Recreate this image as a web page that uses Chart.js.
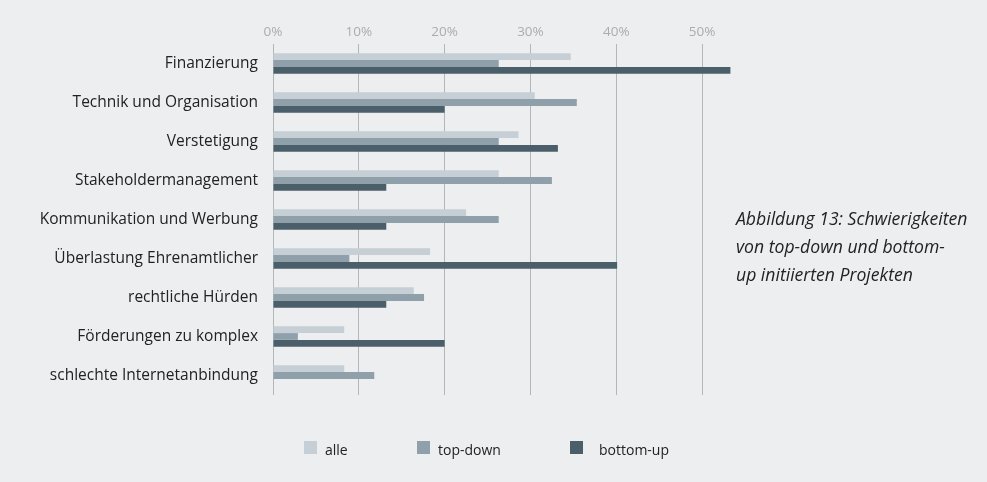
<!DOCTYPE html>
<html>
<head>
<meta charset="utf-8">
<script src="https://cdn.jsdelivr.net/npm/chart.js@4"></script>
<style>
  body { margin: 0; background: #edeef0; font-family: "Open Sans", sans-serif; }
  #wrap { position: absolute; left: 0; top: 0; width: 745px; height: 482px; }
  #caption {
    position: absolute; left: 736px; top: 204px;
    font-style: italic; font-size: 17.6px; line-height: 28px; color: #222;
    white-space: nowrap;
  }
  #legend { position: absolute; top: 440px; left: 0; font-size: 14px; color: #222; }
  #legend .item { position: absolute; white-space: nowrap; }
  #legend .box { position: absolute; top: 1px; width: 13px; height: 13px; }
</style>
</head>
<body>
<div id="wrap"><canvas id="chart"></canvas></div>
<div id="caption">Abbildung 13: Schwierigkeiten<br>von top-down und bottom-<br>up initiierten Projekten</div>
<div id="legend"></div>
<script>
const categories = [
  'Finanzierung',
  'Technik und Organisation',
  'Verstetigung',
  'Stakeholdermanagement',
  'Kommunikation und Werbung',
  'Überlastung Ehrenamtlicher',
  'rechtliche Hürden',
  'Förderungen zu komplex',
  'schlechte Internetanbindung'
];
const seriesNames = ['alle', 'top-down', 'bottom-up'];
const alle     = [34.7, 30.5, 28.6, 26.3, 22.5, 18.3, 16.4, 8.3, 8.3];
const topDown  = [26.3, 35.4, 26.3, 32.5, 26.3, 8.9, 17.6, 2.9, 11.8];
const bottomUp = [53.3, 20.0, 33.2, 13.2, 13.2, 40.1, 13.2, 20.0, 0];
const colors = ['#c5cfd5', '#8fa0aa', '#4b5f6a'];

// legend positions (box x, text x)
const legendPos = [[304, 325], [417, 438], [570, 599]];
const legend = document.getElementById('legend');
seriesNames.forEach((name, i) => {
  const box = document.createElement('div');
  box.className = 'box';
  box.style.left = legendPos[i][0] + 'px';
  box.style.background = colors[i];
  legend.appendChild(box);
  const txt = document.createElement('div');
  txt.className = 'item';
  txt.style.left = legendPos[i][1] + 'px';
  txt.textContent = name;
  legend.appendChild(txt);
});

const values = [alle, topDown, bottomUp];

let ctx = document.getElementById('chart').getContext('2d');
new Chart(ctx, {
  type: 'bar',
  data: {
    labels: categories,
    datasets: seriesNames.map((name, i) => ({
      label: name,
      data: values[i],
      backgroundColor: colors[i],
      borderWidth: 0,
      barPercentage: 1.0,
      categoryPercentage: 0.52
    }))
  },
  options: {
    indexAxis: 'y',
    responsive: true,
    maintainAspectRatio: false,
    animation: false,
    layout: { padding: { top: 0, right: 0, bottom: 87, left: 0 } },
    plugins: {
      legend: { display: false },
      tooltip: { enabled: false }
    },
    scales: {
      x: {
        position: 'top',
        min: 0,
        max: 55,
        ticks: {
          stepSize: 10,
          includeBounds: false,
          color: '#a9adb1',
          padding: 4,
          font: { family: 'Open Sans', size: 13.5 },
          callback: function(value) { return value + '%'; }
        },
        grid: { color: '#b3b6b9', lineWidth: 1, drawTicks: false },
        border: { display: false },
        afterFit: function(scale) { scale.height = 44; }
      },
      y: {
        ticks: {
          color: '#222',
          padding: 7,
          font: { family: 'Open Sans', size: 15.5 }
        },
        grid: { display: false },
        border: { display: false },
        afterFit: function(scale) { scale.width = 273; }
      }
    }
  }
});
</script>
</body>
</html>
